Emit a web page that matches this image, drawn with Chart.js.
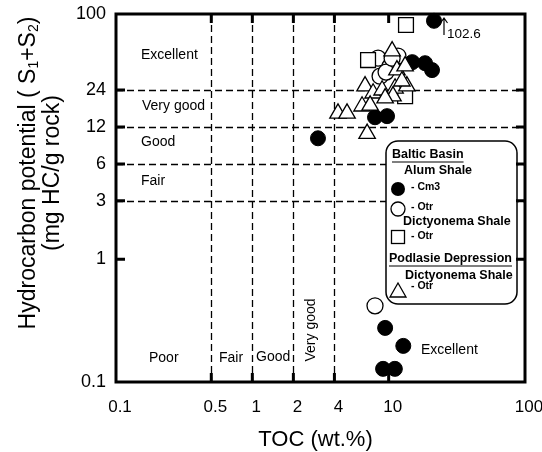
<!DOCTYPE html>
<html><head><meta charset="utf-8">
<script src="https://cdn.jsdelivr.net/npm/chart.js@4.4.0/dist/chart.umd.min.js"></script>
<style>html,body{margin:0;padding:0;background:#fff;}#wrap{width:542px;height:452px;position:relative;}</style>
</head><body><div id="wrap"><canvas id="c" width="542" height="452"></canvas></div>
<script>
// ---- data ----
const xTicks = [0.1, 0.5, 1, 2, 4, 10, 100];
const yTicks = [0.1, 1, 3, 6, 12, 24, 100];
const xBounds = [0.5, 1, 2, 4];
const yBounds = [3, 6, 12, 24];
const frameTicksX = [0.5, 1, 2, 4, 10];
const frameTicksY = [1, 3, 6, 12, 24];

const alumCm3X = [21.5, 14.9, 18.5, 20.8, 7.94, 9.73, 3.03, 9.42, 12.8, 9.1, 11.1];
const alumCm3Y = [88, 40.5, 39.7, 34.9, 14.4, 14.7, 9.7, 0.276, 0.197, 0.128, 0.128];

const alumOtrX = [8.36, 11.7, 10.24, 8.65, 9.57, 10.6, 7.94];
const alumOtrY = [43.6, 45.4, 37.6, 31.1, 33.6, 43.6, 0.418];

const dictBalticX = [13.4, 7.06, 13.2];
const dictBalticY = [81.3, 42.1, 21.4];

const podlasieX = [10.6, 11.5, 13.2, 6.71, 7.69, 8.95, 11.14, 13.6, 10.76, 9.42, 6.38, 7.31, 4.25, 4.95, 6.95, 12.5];
const podlasieY = [49.8, 34.9, 37.6, 25.8, 22.6, 23.9, 24.8, 25.8, 21.4, 20.6, 17.7, 18.0, 15.5, 15.5, 10.6, 28.3];

const FONT = '"Liberation Sans", Arial, Helvetica, sans-serif';
const pts = (xs, ys) => xs.map((v, i) => ({x: v, y: ys[i]}));

function txt(ctx, s, x, y, font, align) {
  ctx.font = font; ctx.textAlign = align || 'left'; ctx.textBaseline = 'middle';
  ctx.fillText(s, x, y);
}

const decor = {
  id: 'decor',
  beforeDatasetsDraw(chart) {
    const {ctx, chartArea: a, scales: {x, y}} = chart;
    ctx.save();
    ctx.strokeStyle = '#000'; ctx.lineWidth = 1.3; ctx.setLineDash([7, 4]);
    xBounds.forEach(v => {
      const px = Math.round(x.getPixelForValue(v)) + 0.5;
      ctx.beginPath(); ctx.moveTo(px, a.top); ctx.lineTo(px, a.bottom); ctx.stroke();
    });
    yBounds.forEach(v => {
      const py = Math.round(y.getPixelForValue(v)) + 0.5;
      ctx.beginPath(); ctx.moveTo(a.left, py); ctx.lineTo(a.right, py); ctx.stroke();
    });
    ctx.setLineDash([]);
    ctx.fillStyle = '#000';
    const f = '14px ' + FONT;
    txt(ctx, 'Excellent', 141, 55, f);
    txt(ctx, 'Very good', 142, 106, f);
    txt(ctx, 'Good', 141, 142, f);
    txt(ctx, 'Fair', 141, 181, f);
    txt(ctx, 'Poor', 149, 358, f);
    txt(ctx, 'Fair', 219, 358, f);
    txt(ctx, 'Good', 256, 357, f);
    txt(ctx, 'Excellent', 421, 350, f);
    ctx.save();
    ctx.translate(311, 330); ctx.rotate(-Math.PI / 2);
    txt(ctx, 'Very good', 0, 0, f, 'center');
    ctx.restore();
    ctx.restore();
  },
  afterDatasetsDraw(chart) {
    const {ctx, chartArea: a, scales: {x, y}} = chart;
    ctx.save();
    // legend box
    const bx = 386, by = 141, bw = 131, bh = 163, r = 12;
    ctx.beginPath();
    ctx.moveTo(bx + r, by); ctx.lineTo(bx + bw - r, by); ctx.arcTo(bx + bw, by, bx + bw, by + r, r);
    ctx.lineTo(bx + bw, by + bh - r); ctx.arcTo(bx + bw, by + bh, bx + bw - r, by + bh, r);
    ctx.lineTo(bx + r, by + bh); ctx.arcTo(bx, by + bh, bx, by + bh - r, r);
    ctx.lineTo(bx, by + r); ctx.arcTo(bx, by, bx + r, by, r); ctx.closePath();
    ctx.fillStyle = '#fff'; ctx.fill();
    ctx.strokeStyle = '#000'; ctx.lineWidth = 1.5; ctx.stroke();
    ctx.fillStyle = '#000';
    const hb = 'bold 12.5px ' + FONT, sb = 'bold 10.5px ' + FONT;
    txt(ctx, 'Baltic Basin', 392, 155, hb);
    let w = ctx.measureText('Baltic Basin').width;
    ctx.lineWidth = 1.2; ctx.beginPath(); ctx.moveTo(392, 162); ctx.lineTo(392 + w, 162); ctx.stroke();
    txt(ctx, 'Alum Shale', 404, 171, hb);
    ctx.beginPath(); ctx.arc(398, 189, 7, 0, Math.PI * 2); ctx.fill();
    txt(ctx, '- Cm3', 411, 187, sb);
    ctx.beginPath(); ctx.arc(398, 209, 7, 0, Math.PI * 2); ctx.fillStyle = '#fff'; ctx.fill(); ctx.lineWidth = 1.3; ctx.stroke();
    ctx.fillStyle = '#000';
    txt(ctx, '- Otr', 411, 207, sb);
    txt(ctx, 'Dictyonema Shale', 403, 222, hb);
    ctx.strokeRect(391.5, 230.5, 13, 13);
    txt(ctx, '- Otr', 411, 236, sb);
    txt(ctx, 'Podlasie Depression', 389, 259, hb);
    w = ctx.measureText('Podlasie Depression').width;
    ctx.lineWidth = 1.2; ctx.beginPath(); ctx.moveTo(389, 266); ctx.lineTo(389 + w, 266); ctx.stroke();
    txt(ctx, 'Dictyonema Shale', 405, 276, hb);
    ctx.lineWidth = 1.3; ctx.beginPath(); ctx.moveTo(398, 283); ctx.lineTo(406, 297); ctx.lineTo(390, 297); ctx.closePath(); ctx.stroke();
    txt(ctx, '- Otr', 411, 286, sb);

    // frame
    ctx.strokeStyle = '#000'; ctx.lineWidth = 3;
    ctx.strokeRect(a.left, a.top, a.right - a.left, a.bottom - a.top);
    const tl = 9;
    frameTicksX.forEach(v => {
      const px = x.getPixelForValue(v);
      ctx.beginPath(); ctx.moveTo(px, a.bottom); ctx.lineTo(px, a.bottom - tl);
      ctx.moveTo(px, a.top); ctx.lineTo(px, a.top + tl); ctx.stroke();
    });
    frameTicksY.forEach(v => {
      const py = y.getPixelForValue(v);
      ctx.beginPath(); ctx.moveTo(a.left, py); ctx.lineTo(a.left + tl, py);
      ctx.moveTo(a.right, py); ctx.lineTo(a.right - tl, py); ctx.stroke();
    });

    // off-scale annotation
    ctx.lineWidth = 1.2;
    ctx.beginPath(); ctx.moveTo(444, 35); ctx.lineTo(444, 18);
    ctx.moveTo(440.5, 23); ctx.lineTo(444, 18); ctx.lineTo(447.5, 23); ctx.stroke();
    txt(ctx, '102.6', 447, 34, '13.5px ' + FONT);

    // axis titles
    txt(ctx, 'TOC (wt.%)', (a.left + a.right) / 2 - 5, 440, '22px ' + FONT, 'center');
    ctx.save();
    ctx.translate(29, 173); ctx.rotate(-Math.PI / 2);
    const big = '23px ' + FONT, small = '14px ' + FONT;
    const parts = [['Hydrocarbon potential ( S', big, 0], ['1', small, 5], ['+S', big, 0], ['2', small, 5], [')', big, 0]];
    let total = 0;
    parts.forEach(p => { ctx.font = p[1]; total += ctx.measureText(p[0]).width; });
    let cx = -total / 2;
    ctx.textAlign = 'left'; ctx.textBaseline = 'middle';
    parts.forEach(p => { ctx.font = p[1]; ctx.fillText(p[0], cx, p[2]); cx += ctx.measureText(p[0]).width; });
    ctx.restore();
    ctx.save();
    ctx.translate(53, 173); ctx.rotate(-Math.PI / 2);
    txt(ctx, '(mg HC/g rock)', 0, 0, big, 'center');
    ctx.restore();
    ctx.restore();
  }
};

new Chart(document.getElementById('c'), {
  type: 'scatter',
  data: {
    datasets: [
      {label: 'Alum Shale - Cm3', data: pts(alumCm3X, alumCm3Y), pointStyle: 'circle', pointRadius: 7.5,
       backgroundColor: '#000', borderColor: '#000', borderWidth: 1, order: 4, clip: false},
      {label: 'Alum Shale - Otr', data: pts(alumOtrX, alumOtrY), pointStyle: 'circle', pointRadius: 8,
       backgroundColor: '#fff', borderColor: '#000', borderWidth: 1.3, order: 3, clip: false},
      {label: 'Dictyonema Shale (Baltic) - Otr', data: pts(dictBalticX, dictBalticY), pointStyle: 'rect', pointRadius: 10.5,
       backgroundColor: '#fff', borderColor: '#000', borderWidth: 1.3, order: 2, clip: false},
      {label: 'Dictyonema Shale (Podlasie) - Otr', data: pts(podlasieX, podlasieY), pointStyle: 'triangle', pointRadius: 9.5,
       backgroundColor: '#fff', borderColor: '#000', borderWidth: 1.3, order: 1, clip: false}
    ]
  },
  options: {
    responsive: false, animation: false, devicePixelRatio: 1, events: [],
    layout: {padding: {left: 0, right: 17, top: 14, bottom: 0}},
    plugins: {legend: {display: false}, tooltip: {enabled: false}},
    scales: {
      x: {
        type: 'logarithmic', min: 0.1, max: 100, position: 'bottom',
        grid: {display: false, drawTicks: false}, border: {display: false},
        afterBuildTicks: s => { s.ticks = xTicks.map(v => ({value: v})); },
        afterFit: s => { s.height = 70; s.paddingLeft = 0; s.paddingRight = 0; },
        ticks: {autoSkip: false, maxRotation: 0, color: '#000', padding: 15, labelOffset: 4,
          font: {family: FONT, size: 17}, callback: v => String(v)}
      },
      y: {
        type: 'logarithmic', min: 0.1, max: 100,
        grid: {display: false, drawTicks: false}, border: {display: false},
        afterBuildTicks: s => { s.ticks = yTicks.map(v => ({value: v})); },
        afterFit: s => { s.width = 116; s.paddingTop = 0; s.paddingBottom = 0; },
        ticks: {autoSkip: false, color: '#000', padding: 10,
          font: {family: FONT, size: 18}, callback: v => String(v)}
      }
    }
  },
  plugins: [decor]
});
</script></body></html>
